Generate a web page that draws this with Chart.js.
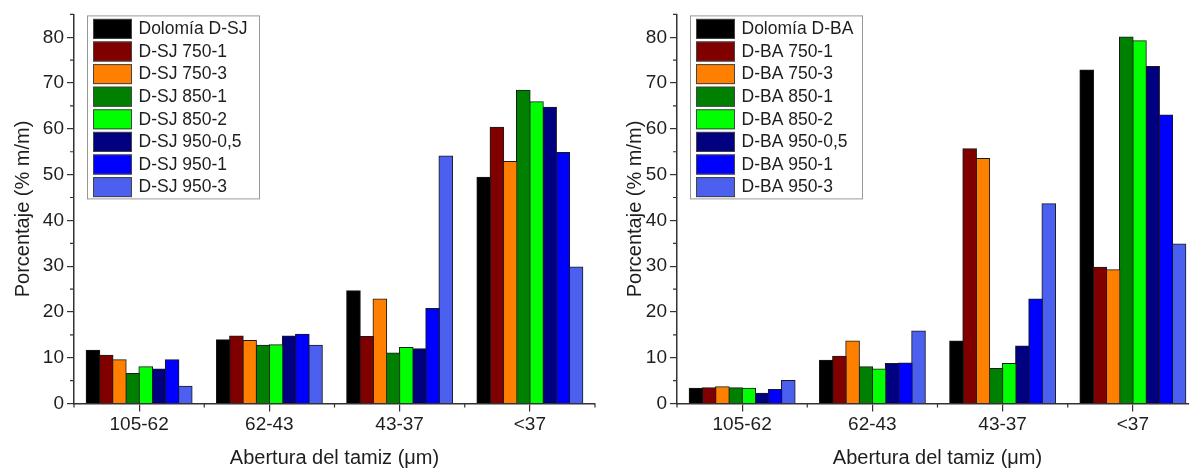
<!DOCTYPE html>
<html>
<head>
<meta charset="utf-8">
<script src="https://cdn.jsdelivr.net/npm/chart.js@4.4.1/dist/chart.umd.min.js"></script>
<style>
html,body{margin:0;padding:0;background:#fff;overflow:hidden;width:1189px;height:470px;}
.box{position:absolute;top:0;width:600px;height:470px;}
#left{left:0;}
#right{left:603px;}
</style>
</head>
<body>
<div class="box" id="left"><canvas id="chartSJ" width="600" height="470"></canvas></div>
<div class="box" id="right"><canvas id="chartBA" width="600" height="470"></canvas></div>
<script>

// sieve fractions (x axis)
const categories = ["105-62", "62-43", "43-37", "<37"];

// left panel, D-SJ samples
const sjLabels = ["Dolomía D-SJ", "D-SJ 750-1", "D-SJ 750-3", "D-SJ 850-1",
                  "D-SJ 850-2", "D-SJ 950-0,5", "D-SJ 950-1", "D-SJ 950-3"];
const sjDolomia = [11.6, 13.9, 24.6, 49.4];
const sj750_1   = [10.5, 14.7, 14.6, 60.3];
const sj750_3   = [9.5, 13.7, 22.8, 52.8];
const sj850_1   = [6.5, 12.7, 11.0, 68.4];
const sj850_2   = [8.0, 12.8, 12.2, 65.9];
const sj950_05  = [7.5, 14.7, 11.9, 64.7];
const sj950_1   = [9.5, 15.1, 20.7, 54.8];
const sj950_3   = [3.7, 12.7, 54.0, 29.8];

// right panel, D-BA samples
const baLabels = ["Dolomía D-BA", "D-BA 750-1", "D-BA 750-3", "D-BA 850-1",
                  "D-BA 850-2", "D-BA 950-0,5", "D-BA 950-1", "D-BA 950-3"];
const baDolomia = [3.3, 9.4, 13.6, 72.8];
const ba750_1   = [3.4, 10.3, 55.6, 29.7];
const ba750_3   = [3.6, 13.6, 53.5, 29.2];
const ba850_1   = [3.4, 8.0, 7.6, 80.0];
const ba850_2   = [3.3, 7.5, 8.7, 79.2];
const ba950_05  = [2.2, 8.7, 12.5, 73.6];
const ba950_1   = [3.0, 8.8, 22.8, 63.0];
const ba950_3   = [5.0, 15.8, 43.6, 34.8];

const yTicks = [0, 10, 20, 30, 40, 50, 60, 70, 80];

const barColors = ["#000000", "#800000", "#FF8000", "#008000",
                   "#00FF00", "#000080", "#0000FF", "#4B60EE"];

const fontFamily = "'Liberation Sans', Arial, sans-serif";
const textColor = "#1e1e1e";
const axisColor = "#333";

// short ticks between the labelled ones
const minorTicks = {
    id: "minorTicks",
    afterDraw(chart){
        let ctx = chart.ctx;
        let xs = chart.scales.x;
        let ys = chart.scales.y;
        let area = chart.chartArea;
        ctx.save();
        ctx.strokeStyle = axisColor;
        ctx.lineWidth = 1.2;
        ctx.beginPath();
        for(let i = 0; i < yTicks.length; i++){
            let y = ys.getPixelForValue(yTicks[i] + 5);
            ctx.moveTo(area.left - 4, y);
            ctx.lineTo(area.left, y);
        }
        for(let i = 0; i <= categories.length; i++){
            let x = xs.getPixelForValue(i - 0.5);
            ctx.moveTo(x, area.bottom);
            ctx.lineTo(x, area.bottom + 4);
        }
        ctx.stroke();
        ctx.restore();
    }
};

// framed legend in the top left corner of the plot
const boxLegend = {
    id: "boxLegend",
    afterDraw(chart){
        let ctx = chart.ctx;
        let area = chart.chartArea;
        let x0 = area.left + 13;
        let y0 = area.top + 1;
        let rowH = 22.6;
        let sets = chart.data.datasets;
        ctx.save();
        ctx.fillStyle = "#fff";
        ctx.fillRect(x0, y0, 172, 183);
        ctx.strokeStyle = "#999";
        ctx.lineWidth = 1;
        ctx.strokeRect(x0 + 0.5, y0 + 0.5, 172, 183);
        ctx.font = "17.5px " + fontFamily;
        ctx.textBaseline = "middle";
        sets.forEach((ds, i) => {
            let top = y0 + 3.5 + i * rowH;
            ctx.fillStyle = ds.backgroundColor;
            ctx.fillRect(x0 + 6, top, 39, 20);
            ctx.strokeStyle = "#444";
            ctx.strokeRect(x0 + 6.5, top + 0.5, 38, 19);
            ctx.fillStyle = textColor;
            ctx.fillText(ds.label, x0 + 51.5, top + 10.5);
        });
        ctx.restore();
    }
};

function makeChart(canvasId, seriesLabels, seriesData, yTitlePad){

    let datasets = [];

    seriesData.forEach((values, i) => {
        datasets.push({
            label: seriesLabels[i],
            data: values,
            backgroundColor: barColors[i],
            borderColor: "#1a1a1a",
            borderWidth: 1,
            inflateAmount: 0.7,
            categoryPercentage: 0.81,
            barPercentage: 1
        });
    });

    return new Chart(document.getElementById(canvasId), {
        type: "bar",
        data: {
            labels: categories,
            datasets: datasets
        },
        options: {
            responsive: false,
            animation: false,
            layout: {padding: {top: 13, right: 5, bottom: 0, left: 0}},
            plugins: {
                legend: {display: false},
                tooltip: {enabled: false}
            },
            scales: {
                x: {
                    grid: {
                        display: true,
                        drawOnChartArea: false,
                        offset: false,
                        tickLength: 8,
                        color: axisColor,
                        lineWidth: 1.2
                    },
                    border: {display: true, color: axisColor, width: 1.5},
                    ticks: {
                        color: textColor,
                        font: {family: fontFamily, size: 19},
                        padding: 2,
                        maxRotation: 0
                    },
                    title: {
                        display: true,
                        text: "Abertura del tamiz (μm)",
                        color: textColor,
                        font: {family: fontFamily, size: 20},
                        padding: 0
                    },
                    afterFit: s => { s.height = 66.5; }
                },
                y: {
                    min: 0,
                    max: 85,
                    afterBuildTicks: s => {
                        s.ticks = yTicks.map(v => ({value: v}));
                    },
                    grid: {
                        display: true,
                        drawOnChartArea: false,
                        tickLength: 7,
                        color: axisColor,
                        lineWidth: 1.2
                    },
                    border: {display: true, color: axisColor, width: 1.5},
                    ticks: {
                        color: textColor,
                        font: {family: fontFamily, size: 19},
                        padding: 3
                    },
                    title: {
                        display: true,
                        text: "Porcentaje (% m/m)",
                        color: textColor,
                        font: {family: fontFamily, size: 20},
                        padding: {top: yTitlePad}
                    },
                    afterFit: s => { s.width = 74; }
                }
            }
        },
        plugins: [minorTicks, boxLegend]
    });

}

makeChart("chartSJ", sjLabels,
    [sjDolomia, sj750_1, sj750_3, sj850_1, sj850_2, sj950_05, sj950_1, sj950_3], 11);

makeChart("chartBA", baLabels,
    [baDolomia, ba750_1, ba750_3, ba850_1, ba850_2, ba950_05, ba950_1, ba950_3], 20);

</script>
</body>
</html>
